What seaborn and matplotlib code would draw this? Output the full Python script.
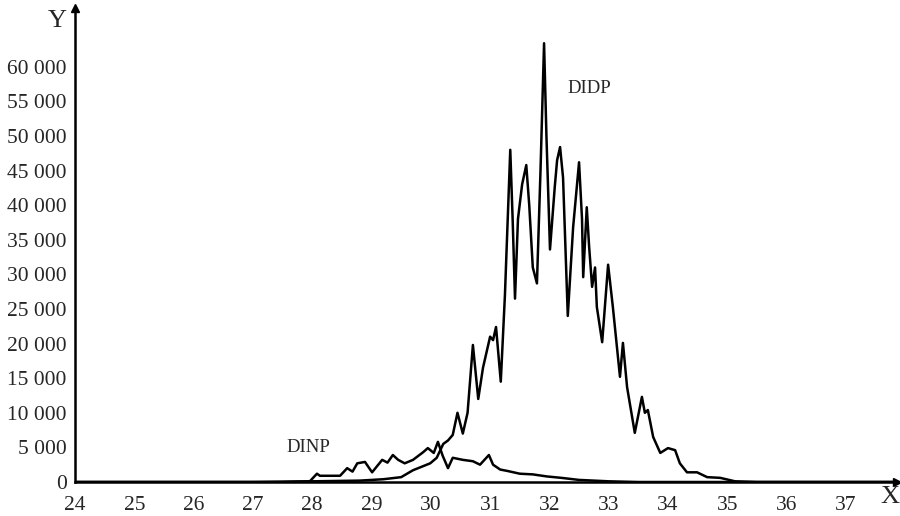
import numpy as np
import pandas as pd
import seaborn as sns
import matplotlib.pyplot as plt
from matplotlib.ticker import MultipleLocator, FuncFormatter

# values
didp_x = [24.0, 27.0, 28.0, 28.8, 29.2, 29.5, 29.7, 29.99, 30.1, 30.21, 30.29, 30.37,
          30.45, 30.54, 30.62, 30.71, 30.80, 30.88, 31.0, 31.05, 31.1, 31.18, 31.25,
          31.34, 31.38, 31.42, 31.47, 31.54, 31.61, 31.66, 31.72, 31.79, 31.85, 31.91,
          31.95, 32.01, 32.09, 32.13, 32.18, 32.23, 32.31, 32.40, 32.50, 32.55, 32.57,
          32.63, 32.67, 32.72, 32.77, 32.80, 32.89, 32.99, 33.07, 33.19, 33.24, 33.31,
          33.44, 33.56, 33.61, 33.66, 33.75, 33.87, 34.00, 34.12, 34.20, 34.32, 34.49,
          34.66, 34.88, 35.13, 35.5, 37.8]
didp_y = [0, 0, 100, 200, 400, 700, 1700, 2700, 3500, 5500, 6000, 6800,
          10000, 7000, 10000, 19800, 12000, 16500, 21000, 20500, 22400, 14500, 27000,
          48000, 38000, 26500, 38000, 43000, 45800, 40000, 31000, 28700, 45000, 63400,
          50000, 33600, 42600, 46500, 48400, 44000, 24000, 36800, 46200, 38000, 29600,
          39700, 34000, 28200, 31000, 25300, 20200, 31400, 25300, 15200, 20100, 13700,
          7100, 12300, 10000, 10400, 6500, 4200, 4900, 4600, 2700, 1400, 1400,
          700, 600, 100, 0, 0]

dinp_x = [24.0, 27.5, 27.96, 28.08, 28.13, 28.47, 28.59, 28.68, 28.76, 28.89, 29.01,
          29.18, 29.27, 29.36, 29.45, 29.56, 29.70, 29.87, 29.95, 30.05, 30.12, 30.2,
          30.29, 30.37, 30.54, 30.71, 30.83, 30.98, 31.05, 31.17, 31.29, 31.5, 31.72,
          31.96, 32.2, 32.5, 33.0, 33.5, 37.8]
dinp_y = [0, 0, 100, 1200, 900, 900, 2000, 1500, 2700, 2900, 1400,
          3200, 2800, 3900, 3200, 2700, 3200, 4300, 4900, 4200, 5800, 3800,
          2000, 3500, 3200, 3000, 2500, 3900, 2500, 1800, 1600, 1200, 1100,
          800, 600, 300, 100, 0, 0]

x_ticks = list(range(24, 38))
y_ticks = list(range(0, 60001, 5000))

didp = pd.DataFrame({'x': didp_x, 'y': didp_y})
dinp = pd.DataFrame({'x': dinp_x, 'y': dinp_y})

sns.set_style('white')
plt.rcParams['font.family'] = ['Liberation Serif', 'DejaVu Serif']

fig = plt.figure(figsize=(9, 5.16), dpi=100)
ax = fig.add_axes([75/900, 34/516, 822/900, 474/516])

sns.lineplot(data=didp, x='x', y='y', color='black', linewidth=1.8, ax=ax)
sns.lineplot(data=dinp, x='x', y='y', color='black', linewidth=1.8, ax=ax)

ax.set_xlim(24, 24 + 822/59.3)
ax.set_ylim(0, 474*144.5)

# axes drawn as arrows
for side in ['top', 'right']:
    ax.spines[side].set_visible(False)
for side in ['left', 'bottom']:
    ax.spines[side].set_linewidth(1.8)
    ax.spines[side].set_color('black')
ax.plot(1, 0, '>k', markersize=6, transform=ax.get_yaxis_transform(), clip_on=False)
ax.plot(24, 1, '^k', markersize=6, transform=ax.get_xaxis_transform(), clip_on=False)

ax.set_xticks(x_ticks)
ax.xaxis.set_minor_locator(MultipleLocator(0.5))
ax.set_yticks(y_ticks)
ax.yaxis.set_major_formatter(FuncFormatter(lambda v, p: f'{v:,.0f}'.replace(',', ' ')))
ax.tick_params(axis='x', which='both', direction='in', length=6, width=1.3,
               color='black', labelsize=15.5, pad=10)
ax.tick_params(axis='y', direction='in', length=6, width=1.3,
               color='black', labelsize=15.5, pad=6)
ax.set_xlabel('')
ax.set_ylabel('')

ax.text(-0.022, 0.972, 'Y', transform=ax.transAxes, fontsize=19, ha='center', va='center')
ax.text(0.991, -0.032, 'X', transform=ax.transAxes, fontsize=19, ha='center', va='center')
ax.text(32.68, 56900, 'DIDP', fontsize=13.5, ha='center', va='center')
ax.text(27.93, 5050, 'DINP', fontsize=13.5, ha='center', va='center')

fig.savefig('out.png', dpi=100, facecolor='white')
